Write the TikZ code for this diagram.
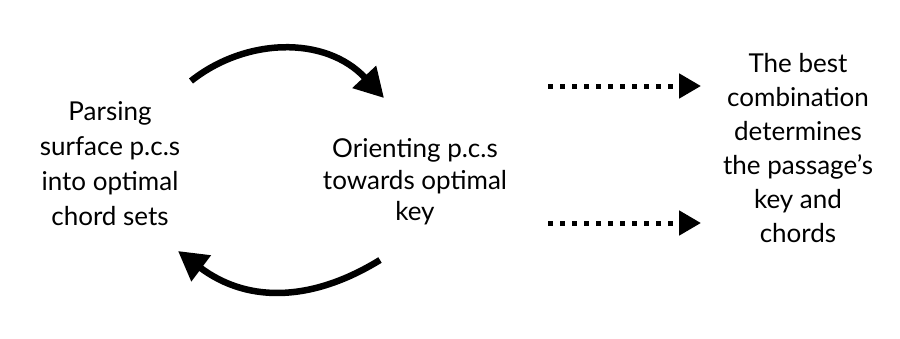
\documentclass[tikz,border=0pt]{standalone}
\usepackage{fontspec}
\setmainfont{Lato}
\usetikzlibrary{arrows.meta}
\begin{document}
\begin{tikzpicture}[x=1pt,y=-1pt,
  lbl/.style={align=center,inner sep=0pt},
  arc/.style={line width=6.5pt,-{Triangle[length=29pt,width=31pt]}},
  dotarrow/.style={line width=5pt,dash pattern=on 5pt off 7pt,-{Triangle[length=22pt,width=24pt]}}]
\useasboundingbox (0,0) rectangle (900,338);
\node[lbl,font=\fontsize{26}{35}\selectfont] (left) at (110,164) {Parsing\\surface p.c.s\\into optimal\\chord sets};
\node[lbl,font=\fontsize{26}{31.5}\selectfont] (mid) at (415,182) {Orienting p.c.s\\towards optimal\\key};
\node[lbl,font=\fontsize{26}{34}\selectfont] (right) at (798,148) {The best\\combination\\determines\\the passage’s\\key and\\chords};
\coordinate (a1s) at (191,81);
\coordinate (a1e) at (384,98);
\coordinate (a2s) at (380,260);
\coordinate (a2e) at (178,251);
\coordinate (d1s) at (548,86);
\coordinate (d1e) at (701,86);
\coordinate (d2s) at (548,223);
\coordinate (d2e) at (701,223);
\draw[arc] (a1s) .. controls (245,38) and (325,35) .. (a1e);
\draw[arc] (a2s) .. controls (315,300) and (250,305) .. (a2e);
\draw[dotarrow] (d1s) -- (d1e);
\draw[dotarrow] (d2s) -- (d2e);
\end{tikzpicture}
\end{document}
